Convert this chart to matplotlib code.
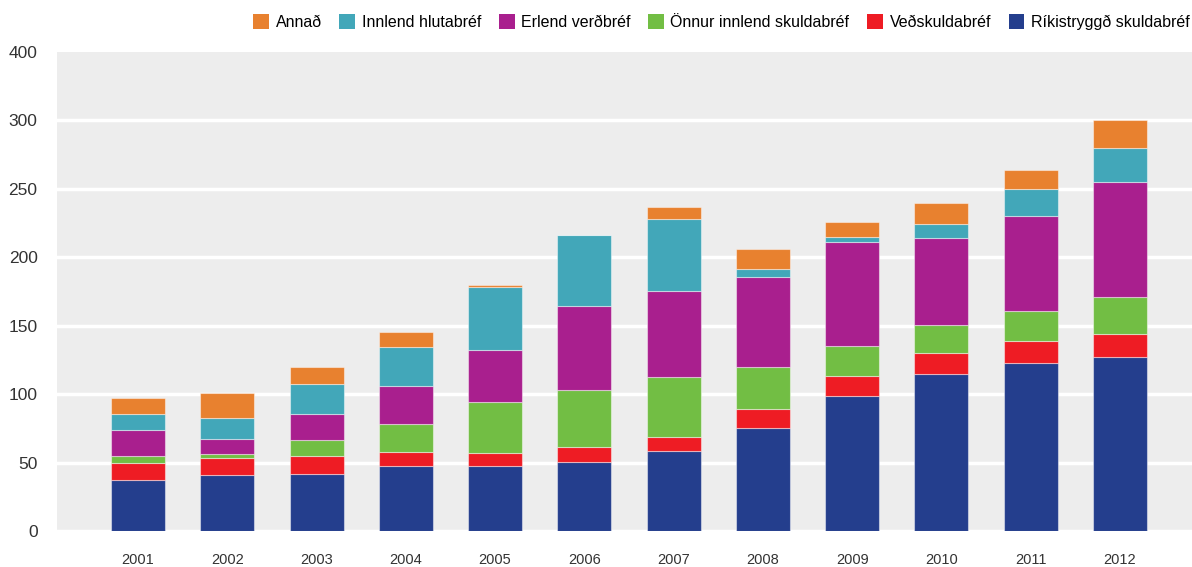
import matplotlib
matplotlib.use("Agg")
import matplotlib.pyplot as plt
from matplotlib.patches import Patch
import numpy as np

years = ["2001", "2002", "2003", "2004", "2005", "2006", "2007", "2008", "2009", "2010", "2011", "2012"]
rikistryggd = [37.0, 40.7, 41.9, 47.3, 47.3, 50.7, 58.7, 75.3, 98.4, 114.5, 122.5, 127.4]
vedskuldabref = [12.7, 12.9, 12.9, 10.2, 9.9, 10.5, 10.2, 14.1, 15.1, 15.3, 16.5, 16.5]
onnur_innlend = [5.1, 2.7, 11.5, 20.5, 37.1, 42.1, 43.4, 30.4, 21.7, 20.7, 21.5, 26.9]
erlend = [19.2, 11.2, 19.0, 27.7, 38.2, 61.1, 63.3, 66.0, 76.2, 63.4, 69.9, 84.0]
innlend_hlutabref = [11.5, 15.3, 21.9, 28.7, 45.8, 52.1, 52.4, 5.4, 3.6, 10.2, 19.3, 25.3]
annad = [11.5, 17.8, 12.6, 11.0, 1.2, 0.0, 9.0, 15.1, 10.5, 15.3, 14.1, 20.4]

series_names = ["Ríkistryggð skuldabréf", "Veðskuldabréf", "Önnur innlend skuldabréf",
                "Erlend verðbréf", "Innlend hlutabréf", "Annað"]
series = [rikistryggd, vedskuldabref, onnur_innlend, erlend, innlend_hlutabref, annad]
colors = ["#243E8D", "#EE1C24", "#72BE44", "#A91F8E", "#42A7B9", "#E8812F"]

ytick_vals = [0, 50, 100, 150, 200, 250, 300, 350]
ytick_labels = ["0", "50", "100", "150", "200", "250", "300", "400"]

plt.rcParams['font.family'] = ['Liberation Sans', 'DejaVu Sans']

fig = plt.figure(figsize=(11.92, 5.67), dpi=100)
ax = fig.add_axes([57/1192, 36/567, 1 - 57/1192, 479/567])
ax.set_facecolor("#EDEDED")

x = np.arange(len(years))
bottom = np.zeros(len(years))
for name, vals, c in zip(series_names, series, colors):
    vals = np.array(vals)
    ax.bar(x, vals, width=0.605, bottom=bottom, color=c, edgecolor=(1, 1, 1, 0.45),
           linewidth=0.8, zorder=3)
    bottom += vals

ax.set_xlim(-0.907, 11.807)
ax.set_ylim(0, 350)
ax.set_yticks(ytick_vals)
ax.set_yticklabels(ytick_labels, fontsize=12.5, color="#333333")
ax.set_xticks(x)
ax.set_xticklabels(years, fontsize=10.5, color="#333333")
ax.tick_params(axis='both', length=0)
ax.tick_params(axis='y', pad=14)
ax.tick_params(axis='x', pad=16)
for s in ax.spines.values():
    s.set_visible(False)
ax.yaxis.grid(True, color="white", linewidth=2.5, zorder=1)
ax.set_axisbelow(True)
for gl in ax.yaxis.get_gridlines()[-1:]:
    gl.set_visible(False)

handles = [Patch(facecolor=c, edgecolor='none') for c in colors][::-1]
labels = series_names[::-1]
fig.legend(handles, labels, loc='upper right', bbox_to_anchor=(1.0 + 4/1192, 1.0 - 8/567), ncol=6,
           frameon=False, fontsize=11.5, handlelength=1.0, handleheight=1.0,
           handletextpad=0.4, columnspacing=1.1, borderaxespad=0.0)

fig.savefig("out.png", dpi=100, facecolor="white")
